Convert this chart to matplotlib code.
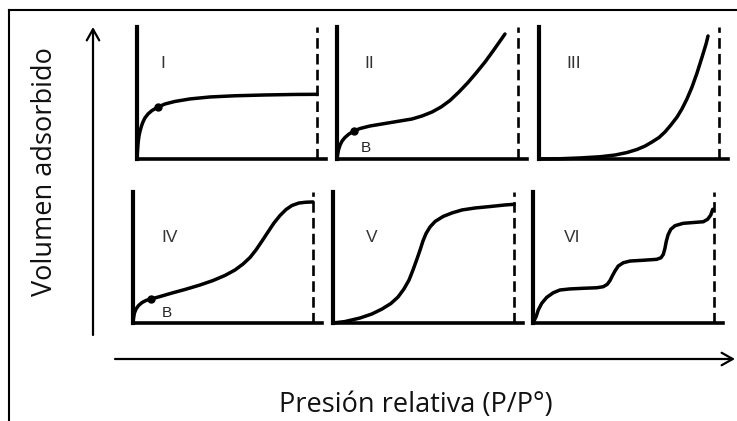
import matplotlib.pyplot as plt

# isotherm curves, normalised: x = P/P0 (1 = dashed line), y = fraction of panel height
typeI_x = [0, .003, .006, .011, .017, .025, .033, .044, .061, .083, .117, .156, .211, .294,
           .406, .544, .711, .878, 1.0]
typeI_y = [0, .068, .121, .174, .212, .250, .280, .311, .341, .367, .394, .417, .436, .455,
           .470, .479, .485, .489, .490]

typeII_x = [0, .003, .008, .017, .028, .044, .066, .094, .127, .182, .265, .348, .414, .470,
            .525, .575, .624, .674, .724, .773, .818, .862, .901, .928]
typeII_y = [0, .030, .068, .106, .136, .163, .189, .212, .231, .250, .269, .288, .303, .326,
            .356, .394, .443, .508, .580, .659, .735, .818, .894, .947]

typeIII_x = [0, .117, .228, .339, .422, .489, .544, .589, .628, .667, .700, .733, .767, .794,
             .822, .850, .878, .906, .928, .939]
typeIII_y = [0, .002, .008, .017, .030, .049, .072, .098, .129, .163, .205, .258, .318, .379,
             .455, .545, .652, .773, .871, .932]

typeIV_x = [0, .003, .008, .017, .031, .050, .072, .1, .15, .217, .289, .372, .444, .511,
            .567, .611, .650, .683, .717, .750, .783, .817, .850, .883, .922, .961, 1.0]
typeIV_y = [0, .038, .076, .107, .134, .156, .172, .183, .202, .229, .256, .290, .324, .363,
            .405, .450, .500, .557, .626, .695, .763, .821, .866, .897, .916, .922, .924]

typeV_x = [0, .066, .149, .215, .271, .320, .359, .392, .420, .442, .464, .481, .497, .514,
           .536, .564, .608, .657, .713, .785, .867, .950, 1.0]
typeV_y = [0, .011, .038, .069, .107, .149, .198, .260, .328, .405, .489, .557, .626, .683,
           .733, .775, .813, .840, .863, .878, .889, .901, .906]

typeVI_x = [0, .017, .029, .048, .076, .112, .149, .204, .278, .352, .388, .410, .425, .438,
            .453, .471, .499, .536, .609, .683, .707, .720, .729, .736, .746, .761, .785,
            .830, .904, .941, .965, .982, .993]
typeVI_y = [0, .048, .099, .150, .196, .231, .252, .260, .265, .269, .277, .295, .323, .359,
            .397, .435, .460, .473, .479, .486, .498, .524, .570, .621, .672, .715, .743,
            .761, .769, .773, .792, .824, .868]

# point B (knee) for I, II and IV
knee = {'I': (.117, .394), 'II': (.094, .212), 'IV': (.1, .183)}

curves = {
    'I': (typeI_x, typeI_y),
    'II': (typeII_x, typeII_y),
    'III': (typeIII_x, typeIII_y),
    'IV': (typeIV_x, typeIV_y),
    'V': (typeV_x, typeV_y),
    'VI': (typeVI_x, typeVI_y),
}

W, H = 737, 421
fig = plt.figure(figsize=(W / 100, H / 100), dpi=100)

# background axes in pixel coordinates for frame, arrows and titles
bg = fig.add_axes([0, 0, 1, 1])
bg.set_xlim(0, W)
bg.set_ylim(H, 0)
bg.axis('off')
bg.plot([9, W], [10, 10], color='k', lw=1.5)
bg.plot([9, 9], [10, H], color='k', lw=1.5)

arrow = dict(arrowstyle='->,head_length=0.8,head_width=0.45', lw=1.6, color='k',
             shrinkA=0, shrinkB=0)
bg.annotate('', xy=(93, 27), xytext=(93, 335), arrowprops=arrow)
bg.annotate('', xy=(735, 359), xytext=(115, 359), arrowprops=arrow)

bg.text(45, 172, 'Volumen adsorbido', rotation=90, ha='center', va='center',
        fontsize=19.5, family='Open Sans', color='#111111')
bg.text(416, 405, 'Presión relativa (P/P°)', ha='center', va='center',
        fontsize=19.5, family='Open Sans', color='#111111')

# panel layout: left edge, top, bottom, dashed line (pixels)
layout = {
    'I': (137, 27, 159, 317),
    'II': (337, 27, 159, 518),
    'III': (539, 27, 159, 719),
    'IV': (133, 192, 323, 313),
    'V': (333, 192, 323, 514),
    'VI': (533, 192, 323, 714),
}
label_pos = {'I': (.144, .72), 'II': (.18, .72), 'III': (.19, .72),
             'IV': (.205, .656), 'V': (.215, .656), 'VI': (.215, .656)}
b_pos = {'II': (.16, .083), 'IV': (.19, .076)}

for name, (left, top, bottom, dash) in layout.items():
    width = (dash - left) * 1.05
    ax = fig.add_axes([left / W, 1 - bottom / H, width / W, (bottom - top) / H])
    ax.set_xlim(0, 1.05)
    ax.set_ylim(0, 1)
    ax.patch.set_alpha(0)
    for s in ['top', 'right']:
        ax.spines[s].set_visible(False)
    ax.spines['left'].set_linewidth(3)
    ax.spines['bottom'].set_linewidth(2.6)
    ax.set_xticks([])
    ax.set_yticks([])
    ax.axvline(1.0, ls=(0, (4, 2)), lw=1.9, color='k')

    x, y = curves[name]
    ax.plot(x, y, color='k', lw=2.5, solid_joinstyle='round', solid_capstyle='round',
            clip_on=False)
    if name in knee:
        kx, ky = knee[name]
        ax.plot(kx, ky, 'o', color='k', ms=5, clip_on=False)
    lx, ly = label_pos[name]
    ax.text(lx, ly, name, ha='center', va='center', fontsize=12.5,
            family='Liberation Sans', color='#333333')
    if name in b_pos:
        bx, by = b_pos[name]
        ax.text(bx, by, 'B', ha='center', va='center', fontsize=11,
                family='Liberation Sans', color='#222222')

fig.savefig('out.png', dpi=100)
